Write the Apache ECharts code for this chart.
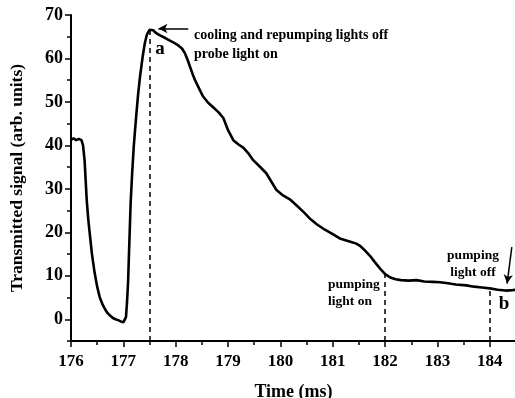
<!DOCTYPE html>
<html>
<head>
<meta charset="utf-8">
<script src="https://cdn.jsdelivr.net/npm/echarts@6/dist/echarts.min.js"></script>
<style>
  html, body { margin: 0; padding: 0; background: #fff; }
  #signal { width: 515px; height: 398px; }
</style>
</head>
<body>
<div id="signal"></div>
<script>
// time axis (ms) and transmitted signal
var timeMs = [176.00, 176.05, 176.10, 176.15, 176.20, 176.23, 176.26, 176.30, 176.33, 176.36,
  176.40, 176.45, 176.50, 176.55, 176.60, 176.65, 176.70, 176.75, 176.80, 176.85,
  176.90, 176.95, 177.00, 177.03, 177.05, 177.07, 177.09, 177.11, 177.14, 177.17,
  177.20, 177.24, 177.28, 177.32, 177.37, 177.41, 177.45, 177.50, 177.53, 177.57,
  177.62, 177.70, 177.80, 177.89, 177.97, 178.05, 178.12, 178.18, 178.23, 178.27,
  178.32, 178.37, 178.45, 178.52, 178.62, 178.72, 178.82, 178.91, 179.00, 179.10,
  179.20, 179.29, 179.38, 179.48, 179.60, 179.73, 179.82, 179.92, 180.05, 180.18,
  180.30, 180.45, 180.56, 180.70, 180.85, 181.00, 181.15, 181.32, 181.45, 181.52,
  181.60, 181.71, 181.80, 181.90, 182.00, 182.10, 182.20, 182.30, 182.45, 182.60,
  182.75, 182.91, 183.05, 183.20, 183.35, 183.55, 183.70, 183.85, 184.00, 184.15,
  184.30, 184.44, 184.50];
var signal = [41.3, 41.6, 41.2, 41.5, 41.2, 40.0, 36.5, 27.5, 23.0, 19.5,
  15.0, 10.8, 7.5, 5.0, 3.5, 2.3, 1.4, 0.8, 0.3, 0.0,
  -0.2, -0.5, -0.7, -0.8, 0.5, 4.0, 8.5, 16.0, 27.0, 34.0,
  40.0, 46.0, 51.5, 56.0, 60.5, 63.5, 65.5, 66.6, 66.9, 66.5,
  65.9, 65.3, 64.7, 64.1, 63.6, 63.0, 62.3, 61.1, 59.6, 58.2,
  56.5, 55.0, 53.0, 51.3, 49.8, 48.7, 47.6, 46.3, 43.5, 41.2,
  40.2, 39.5, 38.3, 36.6, 35.2, 33.6, 31.8, 29.8, 28.5, 27.6,
  26.3, 24.6, 23.2, 21.8, 20.6, 19.6, 18.5, 17.9, 17.4, 16.9,
  16.0, 14.6, 13.2, 11.7, 10.4, 9.6, 9.2, 9.0, 8.9, 9.0,
  8.7, 8.6, 8.5, 8.3, 8.0, 7.8, 7.5, 7.3, 7.1, 6.8,
  6.6, 6.7, 6.8];

var xTicks = [176, 177, 178, 179, 180, 181, 182, 183, 184];
var xMinorTicks = [176.5, 177.5, 178.5, 179.5, 180.5, 181.5, 182.5, 183.5];
var yTicks = [0, 10, 20, 30, 40, 50, 60, 70];
var yMinorTicks = [-5, 5, 15, 25, 35, 45, 55, 65];

// dashed markers: [time, top of the line]
var markerLines = [[177.5, 66.4], [182.0, 10.4], [184.0, 7.1]];
// arrows: [fromTime, fromSignal, toTime, toSignal]
var arrows = [[178.24, 66.9, 177.67, 66.9], [184.42, 16.6, 184.33, 8.2]];

var serif = '"Liberation Serif", "Times New Roman", serif';
var lbl = { color: '#000', fontFamily: serif, fontWeight: 'bold', fontSize: 17 };
var tickLine = { color: '#000', width: 1.5 };
var box = { left: 71, top: 15, width: 445, height: 326, containLabel: false, outerBoundsMode: 'none' };

var chart = echarts.init(document.getElementById('signal'));
var option = {
  animation: false,
  // second grid sits on the first one and only carries the minor ticks
  grid: [Object.assign({}, box), Object.assign({}, box)],
  xAxis: [
    {
      type: 'value', gridIndex: 0, min: 176, max: 184.5, position: 'bottom',
      name: 'Time (ms)', nameLocation: 'middle', nameGap: 42,
      nameTextStyle: { color: '#000', fontFamily: serif, fontWeight: 'bold', fontSize: 18 },
      axisLine: { onZero: false, lineStyle: { color: '#000', width: 2 } },
      axisTick: { customValues: xTicks, length: 6, lineStyle: tickLine },
      axisLabel: Object.assign({ customValues: xTicks, margin: 12 }, lbl),
      splitLine: { show: false }
    },
    {
      type: 'value', gridIndex: 1, min: 176, max: 184.5, position: 'bottom',
      axisLine: { show: false, onZero: false },
      axisTick: { customValues: xMinorTicks, length: 4, lineStyle: tickLine },
      axisLabel: { show: false },
      splitLine: { show: false }
    }
  ],
  yAxis: [
    {
      type: 'value', gridIndex: 0, min: -5, max: 70, position: 'left',
      name: 'Transmitted signal (arb. units)', nameLocation: 'middle', nameGap: 45,
      nameTextStyle: { color: '#000', fontFamily: serif, fontWeight: 'bold', fontSize: 17.5 },
      axisLine: { onZero: false, lineStyle: { color: '#000', width: 2 } },
      axisTick: { customValues: yTicks, length: 6, lineStyle: tickLine },
      axisLabel: Object.assign({ customValues: yTicks, margin: 8 }, lbl, { fontSize: 18 }),
      splitLine: { show: false }
    },
    {
      type: 'value', gridIndex: 1, min: -5, max: 70, position: 'left',
      axisLine: { show: false, onZero: false },
      axisTick: { show: true, customValues: yMinorTicks, length: 4, lineStyle: tickLine },
      axisLabel: { show: false },
      splitLine: { show: false }
    }
  ],
  series: [
    {
      type: 'line',
      data: timeMs.map(function (t, i) { return [t, signal[i]]; }),
      showSymbol: false,
      lineStyle: { color: '#000', width: 2.6 },
      z: 3,
      markLine: {
        silent: true,
        symbol: ['none', 'none'],
        label: { show: false },
        lineStyle: { color: '#000', width: 1.5, type: [5, 4] },
        data: markerLines.map(function (m) {
          return [{ coord: [m[0], -5] }, { coord: [m[0], m[1]] }];
        })
      }
    },
    {
      type: 'line',
      data: [],
      markLine: {
        silent: true,
        symbol: ['none', 'arrow'],
        symbolSize: [7, 9],
        label: { show: false },
        lineStyle: { color: '#000', width: 1.5, type: 'solid' },
        data: arrows.map(function (a) {
          return [{ coord: [a[0], a[1]] }, { coord: [a[2], a[3]] }];
        })
      }
    }
  ],
  graphic: [
    { type: 'text', x: 194, y: 35, style: { text: 'cooling and repumping lights off', fill: '#000', font: 'bold 14px ' + serif, textVerticalAlign: 'middle' } },
    { type: 'text', x: 194, y: 54, style: { text: 'probe light on', fill: '#000', font: 'bold 14px ' + serif, textVerticalAlign: 'middle' } },
    { type: 'text', x: 160, y: 49, style: { text: 'a', fill: '#000', font: 'bold 19px ' + serif, textAlign: 'center', textVerticalAlign: 'middle' } },
    { type: 'text', x: 328, y: 285, style: { text: 'pumping', fill: '#000', font: 'bold 13.5px ' + serif, textVerticalAlign: 'middle' } },
    { type: 'text', x: 328, y: 302, style: { text: 'light on', fill: '#000', font: 'bold 13.5px ' + serif, textVerticalAlign: 'middle' } },
    { type: 'text', x: 473, y: 256, style: { text: 'pumping', fill: '#000', font: 'bold 13.5px ' + serif, textAlign: 'center', textVerticalAlign: 'middle' } },
    { type: 'text', x: 473, y: 273, style: { text: 'light off', fill: '#000', font: 'bold 13.5px ' + serif, textAlign: 'center', textVerticalAlign: 'middle' } },
    { type: 'text', x: 504, y: 304, style: { text: 'b', fill: '#000', font: 'bold 19px ' + serif, textAlign: 'center', textVerticalAlign: 'middle' } }
  ]
};
chart.setOption(option);
</script>
</body>
</html>
